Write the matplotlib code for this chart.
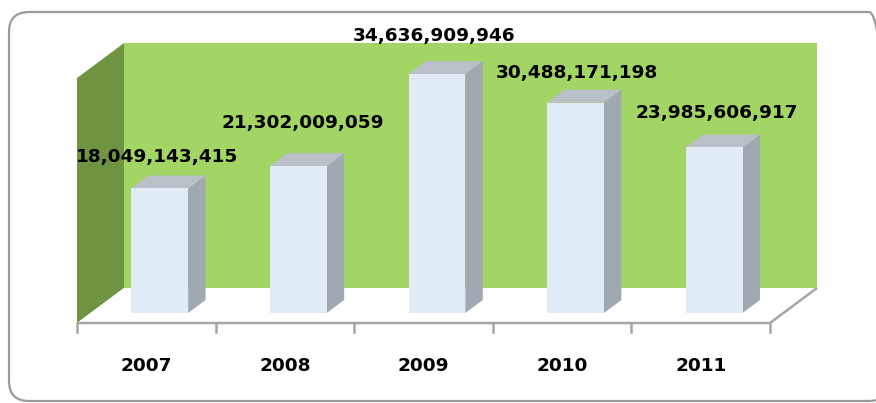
import matplotlib
matplotlib.use("Agg")
import matplotlib.pyplot as plt
from matplotlib.patches import Polygon, FancyBboxPatch

# Data
years = ["2007", "2008", "2009", "2010", "2011"]
values = [18049143415, 21302009059, 34636909946, 30488171198, 23985606917]

# Label shift relative to each bar top (points): sideways and upward
label_dx = [-2, 3, -2, 1, 2]
label_lift = [18, 26, 23, 17, 20]

BN = 1e9
VMAX = 35.5          # top of the back wall, in billions
DX, DY = 0.339, 5.07 # oblique depth vector (categories, billions) for full floor depth
D0, D1 = 0.286, 0.657  # front/back depth of the bars
HALF_W = 0.205       # half width of a bar front face, in categories

WALL = "#A3D565"
SIDE_WALL = "#6E9441"
BAR_FRONT = "#E0EBF6"
BAR_SIDE = "#A0A8B2"
BAR_TOP = "#B9C0C8"
EDGE = "#A6A6A6"


def proj(c, v, d):
    return (c + d * DX, v + d * DY)


fig = plt.figure(figsize=(8.76, 4.03), dpi=100)
ax = fig.add_axes([0, 0, 1, 1])
ax.set_xlim(-1.0556, 5.265)
ax.set_ylim(-11.59, 46.81)
ax.axis("off")

n = len(years)
x_lo, x_hi = -0.5, n - 0.5

# back wall
ax.add_patch(Polygon([proj(x_lo, 0, 1), proj(x_hi, 0, 1), proj(x_hi, VMAX, 1),
                      proj(x_lo, VMAX, 1)], closed=True, facecolor=WALL,
                     edgecolor="none", zorder=1))
# side wall
ax.add_patch(Polygon([proj(x_lo, 0, 0), proj(x_lo, 0, 1), proj(x_lo, VMAX, 1),
                      proj(x_lo, VMAX, 0)], closed=True, facecolor=SIDE_WALL,
                     edgecolor="none", zorder=1))
# floor
ax.add_patch(Polygon([proj(x_lo, 0, 0), proj(x_hi, 0, 0), proj(x_hi, 0, 1),
                      proj(x_lo, 0, 1)], closed=True, facecolor="white",
                     edgecolor="none", zorder=1))
# floor edges
fx = [proj(x_lo, 0, 0)[0], proj(x_hi, 0, 0)[0], proj(x_hi, 0, 1)[0]]
fy = [proj(x_lo, 0, 0)[1], proj(x_hi, 0, 0)[1], proj(x_hi, 0, 1)[1]]
ax.plot(fx, fy, color=EDGE, lw=1.8, zorder=2, solid_capstyle="butt")

# category ticks
for k in range(n + 1):
    c = x_lo + k
    ax.plot([c, c], [0, -1.3], color=EDGE, lw=1.8, zorder=2)

# bars
for i, (yr, val) in enumerate(zip(years, values)):
    v = val / BN
    l, r = i - HALF_W, i + HALF_W
    front = [proj(l, 0, D0), proj(r, 0, D0), proj(r, v, D0), proj(l, v, D0)]
    side = [proj(r, 0, D0), proj(r, 0, D1), proj(r, v, D1), proj(r, v, D0)]
    top = [proj(l, v, D0), proj(r, v, D0), proj(r, v, D1), proj(l, v, D1)]
    ax.add_patch(Polygon(side, closed=True, facecolor=BAR_SIDE, edgecolor="none", zorder=3))
    ax.add_patch(Polygon(top, closed=True, facecolor=BAR_TOP, edgecolor="none", zorder=3))
    ax.add_patch(Polygon(front, closed=True, facecolor=BAR_FRONT, edgecolor="none", zorder=4))

    # value label
    ax.annotate(f"{val:,}", xy=(proj(i, v, D0)[0], proj(i, v, (D0 + D1) / 2)[1]),
                xytext=(label_dx[i], label_lift[i]),
                textcoords="offset points", ha="center", va="center",
                fontsize=13.3, fontweight="bold", color="black", zorder=6)
    # year label
    ax.text(i, -6.2, yr, ha="center", va="center", fontsize=13.3,
            fontweight="bold", color="black", zorder=6)

# rounded chart border
border = FancyBboxPatch((0.09, 0.02), 8.80, 3.89,
                        boxstyle="round,pad=0,rounding_size=0.2",
                        transform=fig.dpi_scale_trans, facecolor="none",
                        edgecolor="#9A9A9A", lw=1.6, zorder=10)
fig.patches.append(border)

fig.savefig("out.png", dpi=100)
